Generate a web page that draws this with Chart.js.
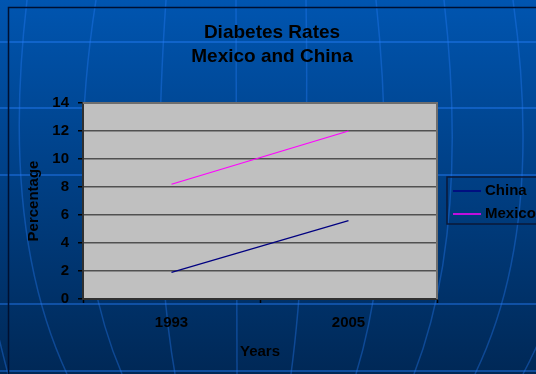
<!DOCTYPE html>
<html>
<head>
<meta charset="utf-8">
<script src="https://cdn.jsdelivr.net/npm/chart.js@4"></script>
<style>
  html, body { margin: 0; padding: 0; background: #003c80; }
  #wrap { width: 536px; height: 374px; }
</style>
</head>
<body>
<div id="wrap"><canvas id="diabetesChart" width="536" height="374"></canvas></div>
<script>
// Chart data
const years = ['1993', '2005'];
const chinaRates = [1.9, 5.6];
const mexicoRates = [8.2, 12.0];
const yTicks = [0, 2, 4, 6, 8, 10, 12, 14];
const titleLines = ['Diabetes Rates', 'Mexico and China'];

const FONT = '"Liberation Sans", Arial, sans-serif';

// Slide background: gradient, faint template lines and frame
const slideBackground = {
    id: 'slideBackground',
    beforeDraw(chart) {
        const { ctx, width, height } = chart;
        ctx.save();
        const grad = ctx.createLinearGradient(0, 0, 0, height);
        grad.addColorStop(0, '#0055b0');
        grad.addColorStop(1, '#002856');
        ctx.fillStyle = grad;
        ctx.fillRect(0, 0, width, height);

        ctx.strokeStyle = 'rgba(40, 130, 255, 0.55)';
        ctx.lineWidth = 1.5;
        [42, 108, 175, 304, 371].forEach(y => {
            ctx.beginPath();
            ctx.moveTo(0, y);
            ctx.lineTo(width, y);
            ctx.stroke();
        });
        // meridian-like curves: [top x, control x, bottom x]
        const curves = [
            [-60, -30, 8], [27, 0, 67], [96, 60, 122], [166, 150, 175],
            [236, 236, 237], [306, 310, 291], [376, 400, 356],
            [444, 470, 414], [513, 545, 475], [590, 600, 523]
        ];
        ctx.strokeStyle = 'rgba(40, 130, 255, 0.35)';
        curves.forEach(([x0, xc, x1]) => {
            ctx.beginPath();
            ctx.moveTo(x0, 0);
            ctx.quadraticCurveTo(xc, 230, x1, height);
            ctx.stroke();
        });

        // frame
        ctx.strokeStyle = '#001030';
        ctx.lineWidth = 1.5;
        ctx.beginPath();
        ctx.moveTo(8.5, height);
        ctx.lineTo(8.5, 7.5);
        ctx.lineTo(width, 7.5);
        ctx.stroke();

        // plot area
        const a = chart.chartArea;
        ctx.fillStyle = '#c0c0c0';
        ctx.fillRect(a.left, a.top, a.right - a.left, a.bottom - a.top);
        ctx.restore();
    },
    afterDraw(chart) {
        const { ctx } = chart;
        const a = chart.chartArea;
        ctx.save();
        // plot border (top & right)
        ctx.strokeStyle = '#6e6e6e';
        ctx.lineWidth = 2;
        ctx.beginPath();
        ctx.moveTo(a.left, a.top);
        ctx.lineTo(a.right, a.top);
        ctx.lineTo(a.right, a.bottom);
        ctx.stroke();

        // title
        ctx.fillStyle = '#000';
        ctx.font = 'bold 19px ' + FONT;
        ctx.textAlign = 'center';
        ctx.textBaseline = 'middle';
        ctx.fillText(titleLines[0], 272, 33);
        ctx.fillText(titleLines[1], 272, 57);

        // legend
        const lx = 447, ly = 177;
        ctx.strokeStyle = '#0a1838';
        ctx.lineWidth = 1.5;
        ctx.strokeRect(lx, ly, 120, 47);
        ctx.font = 'bold 15px ' + FONT;
        ctx.textAlign = 'left';
        chart.data.datasets.forEach((ds, i) => {
            const y = 191 + i * 23;
            ctx.strokeStyle = ds.borderColor;
            ctx.lineWidth = 1.5;
            ctx.beginPath();
            ctx.moveTo(453, y);
            ctx.lineTo(481, y);
            ctx.stroke();
            ctx.fillStyle = '#000';
            ctx.fillText(ds.label, 485, y);
        });
        ctx.restore();
    }
};

const ctx = document.getElementById('diabetesChart').getContext('2d');
const diabetesChart = new Chart(ctx, {
    type: 'line',
    data: {
        labels: years,
        datasets: [{
            label: 'China',
            data: chinaRates,
            borderColor: '#000080',
            borderWidth: 1.2,
            pointRadius: 0,
            tension: 0
        }, {
            label: 'Mexico',
            data: mexicoRates,
            borderColor: '#ff00ff',
            borderWidth: 1.2,
            pointRadius: 0,
            tension: 0
        }]
    },
    options: {
        responsive: false,
        animation: false,
        devicePixelRatio: 1,
        layout: {
            padding: { left: 0, right: 99, top: 103, bottom: 0 }
        },
        plugins: {
            legend: { display: false },
            title: { display: false },
            tooltip: { enabled: false }
        },
        scales: {
            x: {
                offset: true,
                grid: {
                    offset: true,
                    drawOnChartArea: false,
                    tickLength: 4,
                    tickColor: '#000',
                    tickWidth: 1.5
                },
                border: { color: '#303030', width: 2 },
                ticks: {
                    color: '#000',
                    padding: 11,
                    font: { family: FONT, size: 15, weight: 'bold' }
                },
                title: {
                    display: true,
                    text: 'Years',
                    color: '#000',
                    padding: { top: 0, bottom: 13 },
                    font: { family: FONT, size: 15, weight: 'bold' }
                },
                afterFit(scale) { scale.height = 75; }
            },
            y: {
                min: 0,
                max: 14,
                afterBuildTicks(scale) {
                    scale.ticks = yTicks.map(v => ({ value: v }));
                },
                grid: {
                    color: '#505050',
                    lineWidth: 1.5,
                    tickLength: 5,
                    tickColor: '#000',
                    tickWidth: 1.5
                },
                border: { color: '#303030', width: 2 },
                ticks: {
                    color: '#000',
                    padding: 9,
                    font: { family: FONT, size: 15, weight: 'bold' }
                },
                title: {
                    display: true,
                    text: 'Percentage',
                    color: '#000',
                    padding: { top: 25, bottom: 0 },
                    font: { family: FONT, size: 15, weight: 'bold' }
                },
                afterFit(scale) { scale.width = 83; }
            }
        }
    },
    plugins: [slideBackground]
});
</script>
</body>
</html>
